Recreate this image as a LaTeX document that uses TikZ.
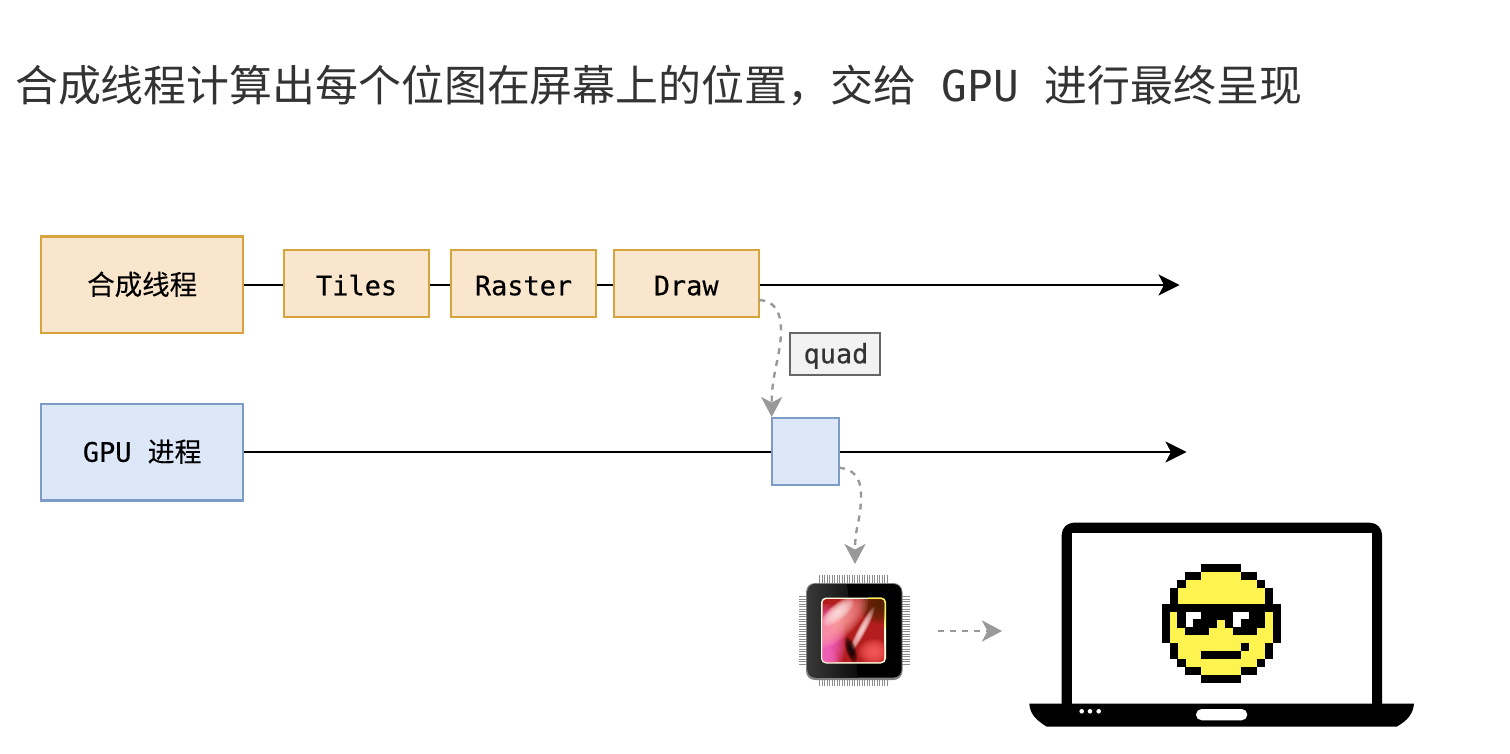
\documentclass[tikz,border=0pt]{standalone}
\usepackage{fontspec}
\setmainfont{Noto Sans CJK SC}
\newfontfamily\cjkf[FakeBold=0.2]{Noto Sans CJK SC}
\newfontfamily\monof[FakeBold=0.35]{DejaVu Sans Mono}
\newfontfamily\titlemono{DejaVu Sans Mono}
\usetikzlibrary{arrows.meta}
\definecolor{ttext}{HTML}{333333}
\definecolor{oF}{HTML}{FAE6CD}
\definecolor{oD}{HTML}{D6A33C}
\definecolor{bF}{HTML}{DCE7F8}
\definecolor{bD}{HTML}{7C9BC6}
\definecolor{dashc}{HTML}{999999}
\definecolor{smile}{HTML}{FFF44F}
\newcommand{\lbl}{\fontsize{26.9}{32}\selectfont}
\newcommand{\mm}[1]{{\monof #1}}
\newcommand{\cellrow}[4]{\fill[#1] ({1161.7+7.93*#3-0.12},{564+7.93*#2-0.12}) rectangle ({1161.7+7.93*(#4+1)+0.12},{564+7.93*(#2+1)+0.12});}
% soft blob: stack of translucent ellipses
\newcommand{\softblob}[6]{\foreach \kk in {1,...,12}{\fill[#1,opacity=0.16,rotate around={#6:(#2,#3)}] (#2,#3) ellipse[x radius={#4*\kk/12},y radius={#5*\kk/12}];}}
\tikzset{
  orangebox/.style={draw=oD,fill=oF,line width=2.4pt,inner sep=0pt,text=black,font=\lbl},
  bluebox/.style={draw=bD,fill=bF,line width=2.4pt,inner sep=0pt,text=black,font=\lbl},
  timeline/.style={draw=black,line width=2.4pt},
  timearrow/.style={timeline,-{Stealth[length=21pt,width=21pt,inset=5.5pt]}},
  flow/.style={draw=dashc,line width=2.4pt,dash pattern=on 6pt off 6pt,-{Stealth[length=20pt,width=21pt,inset=5.5pt,fill=dashc]}}
}
\begin{document}
\begin{tikzpicture}[x=1pt,y=-1pt]
\useasboundingbox (0,0) rectangle (1510,754);
\fill[white] (0,0) rectangle (1510,754);
% title
\node[anchor=base west,inner sep=0pt,text=ttext,font=\fontsize{42.9}{50}\selectfont] (title) at (15,102)
  {合成线程计算出每个位图在屏幕上的位置，交给{\titlemono\fontsize{42.67}{50}\selectfont\ GPU }进行最终呈现};
% boxes
\node[orangebox,minimum width=202pt,minimum height=96.5pt,text height=20pt,text depth=0pt] (comp) at (142.2,284.75) {{\cjkf\fontsize{27.5}{32}\selectfont 合成线程}\hspace{2pt}};
\node[orangebox,minimum width=145pt,minimum height=67pt,text height=23.5pt,text depth=0pt] (tiles) at (356.6,283.5) {\mm{Tiles}\hspace{1pt}};
\node[orangebox,minimum width=145pt,minimum height=67pt,text height=23.5pt,text depth=0pt] (raster) at (523.5,283.5) {\mm{Raster}\hspace{2pt}};
\node[orangebox,minimum width=145pt,minimum height=67pt,text height=23.5pt,text depth=0pt] (drawb) at (686.2,283.5) {\mm{Draw}\hspace{2pt}};
\node[bluebox,minimum width=202pt,minimum height=96.5pt,text height=19pt,text depth=0pt] (gpu) at (142.2,452.25) {\mm{GPU }{\cjkf 进程}\hspace{2pt}};
\node[bluebox,minimum width=67pt,minimum height=67pt] (quadbox) at (805.2,451.4) {};
\node[draw=black!60,fill=black!5,line width=2.4pt,inner sep=0pt,minimum width=90pt,minimum height=42pt,text=ttext,font=\lbl,text height=18.6pt,text depth=0pt] (quadlabel) at (835,354) {\hspace{2pt}{\monof quad}};
% coordinates
\coordinate (endA) at (1179.5,285);
\coordinate (endB) at (1186.5,452);
\coordinate (drawOut) at (759.3,300);
\coordinate (quadIn) at (771.7,417);
\coordinate (quadOut) at (839,467.7);
\coordinate (chipIn) at (855,564);
\coordinate (chipOut) at (938,631);
\coordinate (lapIn) at (1002,631);
% connectors
\draw[timeline] (comp.east |- 0,285) -- (tiles.west |- 0,285);
\draw[timeline] (tiles.east |- 0,285) -- (raster.west |- 0,285);
\draw[timeline] (raster.east |- 0,285) -- (drawb.west |- 0,285);
\draw[timearrow] (drawb.east |- 0,285) -- (endA);
\draw[timeline] (gpu.east |- 0,452) -- (quadbox.west |- 0,452);
\draw[timearrow] (quadbox.east |- 0,452) -- (endB);
\draw[flow] (drawOut) .. controls (774,301) and (781,311) .. (781,330) .. controls (781,356) and (771.7,372) .. (quadIn);
\draw[flow] (quadOut) .. controls (853,469) and (861,477) .. (861,495) .. controls (861,522) and (855,525) .. (chipIn);
\draw[flow] (chipOut) -- (lapIn);
% chip pins
\draw[black!45,line width=8pt,dash pattern=on 1.2pt off 1.3pt] (819,579) -- (888,579);
\draw[black!45,line width=8pt,dash pattern=on 1.2pt off 1.3pt] (819,682) -- (888,682);
\draw[black!45,line width=8pt,dash pattern=on 1.2pt off 1.3pt] (802.5,596) -- (802.5,665);
\draw[black!45,line width=8pt,dash pattern=on 1.2pt off 1.3pt] (905.5,596) -- (905.5,665);
% chip body
\fill[black!50,rounded corners=9pt] (806,583) rectangle (902.5,680);
\fill[black,rounded corners=8pt] (807.5,584) rectangle (901.5,677.5);
\begin{scope}
\clip[rounded corners=8pt] (807.5,584) rectangle (901.5,677.5);
\shade[left color=black!78,right color=black!95] (807.5,584) -- (847,584) -- (858,677.5) -- (807.5,677.5) -- cycle;
\end{scope}
% chip die
\fill[white!88!yellow,rounded corners=5pt] (821,597.5) rectangle (886,663.5);
\begin{scope}
\clip[rounded corners=4pt] (822.5,599) rectangle (884.5,662);
\fill[red!65!black!85!pink] (822,598) rectangle (885,663);
\softblob{black!70!orange}{880}{604}{22}{20}{0}
\softblob{pink!55!magenta}{826}{640}{20}{36}{0}
\softblob{magenta!60!white}{824}{660}{14}{14}{0}
\softblob{pink!85!red}{838}{622}{38}{16}{42}
\softblob{white!60!pink}{838}{612}{20}{8}{40}
\softblob{white!60!pink}{862}{630}{26}{4}{62}
\softblob{red!50!pink}{874}{652}{16}{13}{0}
\softblob{black}{851}{650}{14}{5}{-72}
\end{scope}
\draw[yellow!75!white,line width=1.1pt,rounded corners=4pt] (868,598.2) -- (885.3,598.2) -- (885.3,628);
% laptop
\fill[black,rounded corners=12pt] (1061.7,522.7) rectangle (1382,720);
\fill[white] (1072.3,533.3) rectangle (1372,705);
\fill[black] (1029.3,703.5) -- (1414,703.5) .. controls (1413,714) and (1408,720) .. (1396.7,726.7) -- (1046.7,726.7) .. controls (1036,720) and (1030,714) .. (1029.3,703.5) -- cycle;
\fill[white,rounded corners=5.6pt] (1196,709) rectangle (1247.3,720.3);
\fill[white] (1081.7,711.3) circle[radius=2.3pt] (1090,711.3) circle[radius=2.3pt] (1098.7,711.3) circle[radius=2.3pt];
% smiley: yellow
\foreach \r/\a/\b in {1/5/9,2/3/11,3/2/12,4/2/12,6/1/1,6/13/13,7/1/1,7/7/7,7/13/13,8/1/2,8/6/8,8/12/13,9/1/13,10/2/9,10/11/12,11/2/4,11/10/12,12/3/11,13/5/9}
  {\cellrow{smile}{\r}{\a}{\b}}
% smiley: white
\foreach \r/\a/\b in {6/3/4,6/9/10,7/3/3,7/9/9}
  {\cellrow{white}{\r}{\a}{\b}}
% smiley: black
\foreach \r/\a/\b in {0/5/9,1/3/4,1/10/11,2/2/2,2/12/12,3/1/1,3/13/13,4/1/1,4/13/13,5/0/14,6/0/0,6/2/2,6/5/8,6/11/12,6/14/14,7/0/0,7/2/2,7/4/6,7/8/8,7/10/12,7/14/14,8/0/0,8/3/5,8/9/11,8/14/14,9/0/0,9/14/14,10/1/1,10/10/10,10/13/13,11/1/1,11/5/9,11/13/13,12/2/2,12/12/12,13/3/4,13/10/11,14/5/9}
  {\cellrow{black}{\r}{\a}{\b}}
\end{tikzpicture}
\end{document}
